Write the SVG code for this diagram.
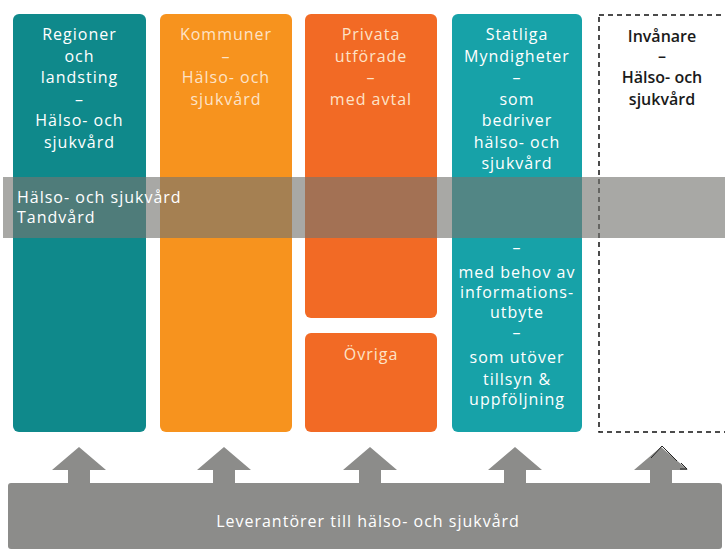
<svg xmlns="http://www.w3.org/2000/svg" width="725" height="549" viewBox="0 0 725 549">
<style>
.t{font-family:"Open Sans","Liberation Sans",sans-serif;font-size:16px;letter-spacing:1px;fill:#ffffff;text-anchor:middle}
.tp{fill:#fde3c8}
.td{fill:#1a1a1a;font-weight:600;letter-spacing:0}
.tl{text-anchor:start}
.arr{fill:#8c8c8a}
</style>
<rect width="725" height="549" fill="#ffffff"/>
<g id="regioner">
<rect x="13" y="14" width="133" height="418" rx="6" fill="#0f898b"/>
<text class="t" x="79.5" y="40">Regioner</text>
<text class="t" x="79.5" y="61.5">och</text>
<text class="t" x="79.5" y="83">landsting</text>
<text class="t" x="79.5" y="104.5">–</text>
<text class="t" x="79.5" y="126">Hälso- och</text>
<text class="t" x="79.5" y="147.5">sjukvård</text>
</g>
<g id="kommuner">
<rect x="160" y="14" width="132" height="418" rx="6" fill="#f7931e"/>
<text class="t tp" x="226" y="40">Kommuner</text>
<text class="t tp" x="226" y="61.5">–</text>
<text class="t tp" x="226" y="83">Hälso- och</text>
<text class="t tp" x="226" y="104.5">sjukvård</text>
</g>
<g id="privata">
<rect x="305" y="14" width="132" height="304" rx="6" fill="#f26a25"/>
<text class="t tp" x="371" y="40">Privata</text>
<text class="t tp" x="371" y="61.5">utförade</text>
<text class="t tp" x="371" y="83">–</text>
<text class="t tp" x="371" y="104.5">med avtal</text>
</g>
<g id="ovriga">
<rect x="305" y="333" width="132" height="99" rx="6" fill="#f26a25"/>
<text class="t tp" x="371" y="360">Övriga</text>
</g>
<g id="statliga">
<rect x="452" y="14" width="130" height="418" rx="6" fill="#17a2a8"/>
<text class="t" x="517" y="40">Statliga</text>
<text class="t" x="517" y="61.5">Myndigheter</text>
<text class="t" x="517" y="83">–</text>
<text class="t" x="517" y="104.5">som</text>
<text class="t" x="517" y="126">bedriver</text>
<text class="t" x="517" y="147.5">hälso- och</text>
<text class="t" x="517" y="169">sjukvård</text>
<text class="t" x="517" y="253">–</text>
<text class="t" x="517" y="278">med behov av</text>
<text class="t" x="517" y="298">informations-</text>
<text class="t" x="517" y="318">utbyte</text>
<text class="t" x="517" y="338">–</text>
<text class="t" x="517" y="363">som utöver</text>
<text class="t" x="517" y="385">tillsyn &amp;</text>
<text class="t" x="517" y="405">uppföljning</text>
</g>
<g id="invanare">
<rect x="599" y="15" width="140" height="417" fill="none" stroke="#111111" stroke-width="1.5" stroke-dasharray="5 4"/>
<text class="t td" x="662" y="42">Invånare</text>
<text class="t td" x="662" y="62">–</text>
<text class="t td" x="662" y="83">Hälso- och</text>
<text class="t td" x="662" y="105">sjukvård</text>
</g>
<g id="band">
<rect x="3" y="177" width="722" height="61" fill="#757570" fill-opacity="0.63"/>
<text class="t tl" x="17" y="203">Hälso- och sjukvård</text>
<text class="t tl" x="17" y="223">Tandvård</text>
</g>
<g id="connectors">
<path class="arr" d="M79,447 L106,470 L90,470 L90,485 L68,485 L68,470 L52,470 Z"/>
<path class="arr" d="M224,447 L251,470 L235,470 L235,485 L213,485 L213,470 L197,470 Z"/>
<path class="arr" d="M370,447 L397,470 L381,470 L381,485 L359,485 L359,470 L343,470 Z"/>
<path class="arr" d="M515,447 L542,470 L526,470 L526,485 L504,485 L504,470 L488,470 Z"/>
<path class="arr" d="M661,447 L688,470 L672,470 L672,485 L650,485 L650,470 L634,470 Z"/>
<polyline points="651,458 662,446 677,461" fill="none" stroke="#222222" stroke-width="1"/>
<path d="M681,463 L687,469 L680,469" fill="none" stroke="#222222" stroke-width="1"/>
</g>
<g id="leverantorer">
<rect x="8" y="483" width="714" height="66" rx="3" fill="#8c8c8a"/>
<text class="t" x="368" y="527" fill="#eeeeee">Leverantörer till hälso- och sjukvård</text>
</g>
</svg>
